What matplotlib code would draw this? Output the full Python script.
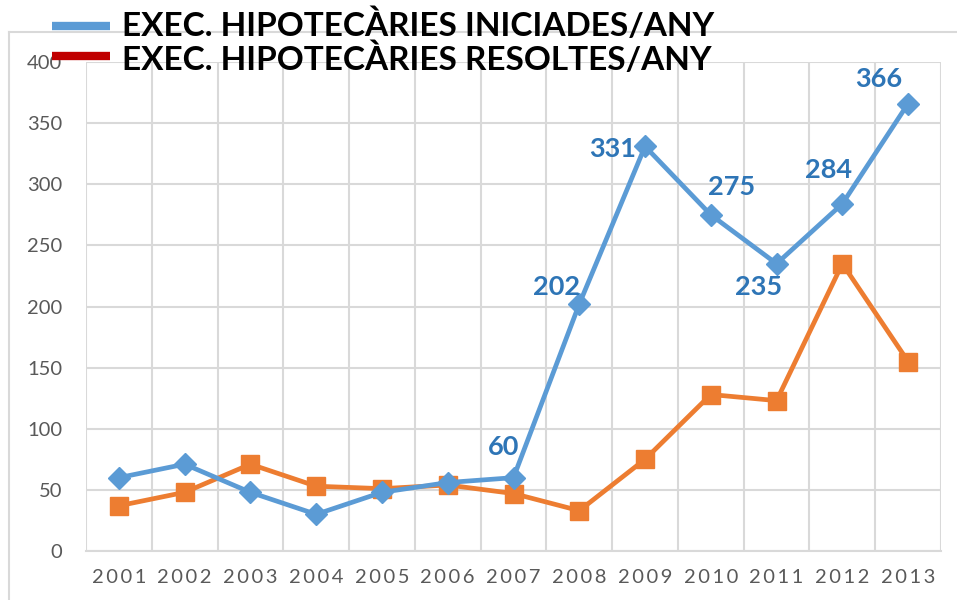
#!/usr/bin/env python3

import numpy as np
from matplotlib import pyplot as plt
from matplotlib.lines import Line2D

years = ['2001', '2002', '2003', '2004', '2005', '2006', '2007',
         '2008', '2009', '2010', '2011', '2012', '2013']
iniciades = [60, 71, 48, 30, 48, 56, 60, 202, 331, 275, 235, 284, 366]
resoltes = [37, 48, 71, 53, 51, 54, 47, 33, 75, 128, 123, 235, 155]
yticks = [0, 50, 100, 150, 200, 250, 300, 350, 400]

# which blue points carry a value label, and where it sits (offset in points)
label_idx = [6, 7, 8, 9, 10, 11, 12]
label_off = [(-7, 22), (-16, 12), (-23, -2), (15, 20), (-13, -17), (-10, 24), (-21, 18)]

BLUE = '#5B9BD5'
ORANGE = '#ED7D31'
LEG_RED = '#C00000'
LABEL_BLUE = '#2E75B6'
GRID = '#D9D9D9'
TICK = '#595959'
FONT = ['Lato', 'DejaVu Sans']

W, H = 957, 600
fig = plt.figure(figsize=(W / 100, H / 100), dpi=100)
ax = fig.add_axes([86 / W, (H - 551) / H, (941 - 86) / W, (551 - 62) / H])

x = np.arange(len(years))
ax.plot(x, iniciades, color=BLUE, lw=3.4, marker='D', ms=11, zorder=4)
ax.plot(x, resoltes, color=ORANGE, lw=3.4, marker='s', ms=13, zorder=3)

for i, (dx, dy) in zip(label_idx, label_off):
    ax.annotate(str(iniciades[i]), (x[i], iniciades[i]), xytext=(dx, dy),
                textcoords='offset points', ha='center', va='center',
                fontsize=19.5, fontweight='bold', color=LABEL_BLUE,
                family=FONT, zorder=5)

ax.set_xlim(-0.5, len(years) - 0.5)
ax.set_ylim(0, 400)
ax.set_yticks(yticks)
ax.set_xticks(x)
ax.set_xticklabels(['\u2009'.join(y) for y in years])
ax.set_xticks(np.arange(-0.5, len(years)), minor=True)
ax.grid(True, axis='y', color=GRID, lw=1.5, zorder=0)
ax.grid(True, axis='x', which='minor', color=GRID, lw=1.5, zorder=0)
ax.tick_params(axis='both', which='both', length=0, colors=TICK, labelsize=14.5)
ax.tick_params(axis='x', pad=13)
ax.tick_params(axis='y', pad=17)
for lab in ax.get_xticklabels() + ax.get_yticklabels():
    lab.set_family(FONT)
for s in ['top', 'right', 'left']:
    ax.spines[s].set_visible(False)
ax.spines['bottom'].set_color(GRID)
ax.spines['bottom'].set_linewidth(1.5)
ax.set_axisbelow(True)

# chart area border (top and left only visible)
fig.add_artist(Line2D([9 / W, 1], [1 - 32 / H, 1 - 32 / H], color=GRID, lw=1.5))
fig.add_artist(Line2D([9 / W, 9 / W], [0, 1 - 32 / H], color=GRID, lw=1.5))

# legend drawn by hand, it overlaps the chart border like the original
legend_items = [('EXEC. HIPOTECÀRIES INICIADES/ANY', BLUE, 26, 24.5),
                ('EXEC. HIPOTECÀRIES RESOLTES/ANY', LEG_RED, 56, 58.5)]
for text, col, ypx, typx in legend_items:
    yf = 1 - ypx / H
    fig.add_artist(Line2D([52 / W, 110 / W], [yf, yf], color=col, lw=6, solid_capstyle='butt'))
    fig.text(122 / W, 1 - typx / H, text, fontsize=24, fontweight='bold', color='black',
             family=FONT, va='center', ha='left')

fig.savefig('out.png', dpi=100)
